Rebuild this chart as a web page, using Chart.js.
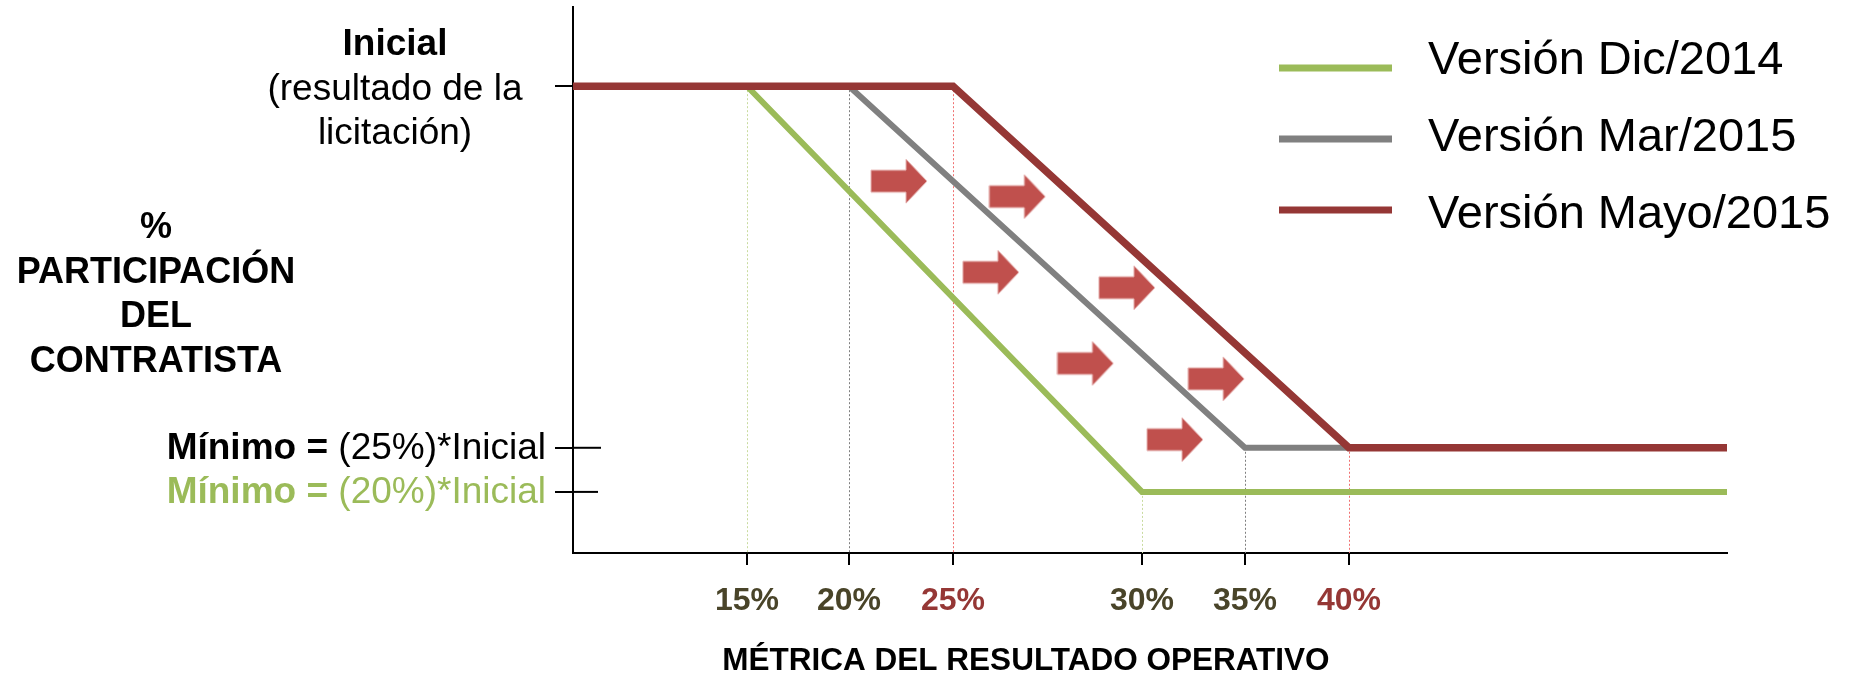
<!DOCTYPE html>
<html>
<head>
<meta charset="utf-8">
<script src="https://cdn.jsdelivr.net/npm/chart.js@4.4.1/dist/chart.umd.min.js"></script>
<style>
  html, body { margin: 0; padding: 0; background: #fff; }
  canvas { display: block; }
</style>
</head>
<body>
<canvas id="graphic" width="1851" height="674"></canvas>
<script>
// values
const seriesLabels = ['Versión Dic/2014', 'Versión Mar/2015', 'Versión Mayo/2015'];
const kneeStart = [15, 20, 25];   // metric where the share starts to drop
const kneeEnd = [30, 35, 40];     // metric where the minimum is reached
const minLevel = [20, 25, 25];    // minimum share (% of Inicial)
const initialLevel = 100;
const xMin = 0, xMax = 60;
const yMin = 0, yMax = 120;
const xTicks = [15, 20, 25, 30, 35, 40];
const xTickLabels = ['15%', '20%', '25%', '30%', '35%', '40%'];
const yTitleLines = ['%', 'PARTICIPACIÓN', 'DEL', 'CONTRATISTA'];
const xTitle = 'MÉTRICA DEL RESULTADO OPERATIVO';
// red arrows between the curves
const arrowX = [22.4, 26.7, 26.0, 29.6, 28.5, 33.6, 31.6];
const arrowY = [80.3, 77.1, 61.4, 58.2, 42.5, 39.3, 26.7];

// styles
const fam = "'Liberation Sans', Arial, sans-serif";
const lineColors = ['#9BBB59', '#808080', '#953735'];
const lineWidths = [6, 6, 7.5];
const dropColors = ['#C9DB9F', '#7F7F7F', '#F07070'];
const tickColors = ['#494429', '#494429', '#953735', '#494429', '#494429', '#953735'];

// the drawing is schematic: axis spacing is not linear
const axisWarp = {
  x: { values: [xMin, 15, 20, 25, 30, 35, 40, xMax], frac: [0, 0.1508, 0.2392, 0.3293, 0.4931, 0.5823, 0.6724, 1] },
  y: { values: [yMin, 20, 25, 100, yMax], frac: [0, 0.1119, 0.1927, 0.8550, 1] }
};

function lerpKnots(from, to, v) {
  let i = 1;
  while (i < from.length - 1 && v > from[i]) i++;
  return to[i - 1] + (v - from[i - 1]) / (from[i] - from[i - 1]) * (to[i] - to[i - 1]);
}

class PiecewiseScale extends Chart.LinearScale {
  getPixelForValue(value) {
    if (value === null || isNaN(value)) return NaN;
    const w = axisWarp[this.id];
    return this.getPixelForDecimal(lerpKnots(w.values, w.frac, value));
  }
  getValueForPixel(pixel) {
    const w = axisWarp[this.id];
    return lerpKnots(w.frac, w.values, this.getDecimalForPixel(pixel));
  }
}
PiecewiseScale.id = 'piecewise';
PiecewiseScale.defaults = Chart.LinearScale.defaults;
Chart.register(PiecewiseScale);

// arrow marker
const arrowImg = document.createElement('canvas');
arrowImg.width = 58;
arrowImg.height = 46;
const actx = arrowImg.getContext('2d');
actx.beginPath();
actx.moveTo(1, 12);
actx.lineTo(36, 12);
actx.lineTo(36, 1);
actx.lineTo(57, 23);
actx.lineTo(36, 45);
actx.lineTo(36, 34);
actx.lineTo(1, 34);
actx.closePath();
actx.fillStyle = '#C0504D';
actx.fill();
actx.strokeStyle = '#E6B2B1';
actx.lineWidth = 1;
actx.stroke();

const datasets = seriesLabels.map((label, i) => ({
  label,
  data: [
    { x: xMin, y: initialLevel },
    { x: kneeStart[i], y: initialLevel },
    { x: kneeEnd[i], y: minLevel[i] },
    { x: xMax, y: minLevel[i] }
  ],
  borderColor: lineColors[i],
  borderWidth: lineWidths[i],
  borderJoinStyle: 'miter',
  borderCapStyle: 'butt',
  pointRadius: 0,
  tension: 0,
  fill: false,
  order: 3 - i
}));
datasets.push({
  label: 'arrows',
  data: arrowX.map((x, i) => ({ x, y: arrowY[i] })),
  showLine: false,
  pointStyle: arrowImg,
  pointRadius: 20,
  order: 0
});

const yLevels = [...new Set([...minLevel, initialLevel])].sort((a, b) => a - b);

function text(ctx, s, x, y, size, bold, color, align) {
  ctx.font = (bold ? 'bold ' : '') + size + 'px ' + fam;
  ctx.fillStyle = color;
  ctx.textAlign = align || 'center';
  ctx.textBaseline = 'alphabetic';
  ctx.fillText(s, x, y);
  return ctx.measureText(s).width;
}

const annotations = {
  id: 'annotations',
  beforeDatasetsDraw(chart) {
    const { ctx, scales: { x, y } } = chart;
    ctx.save();
    // thin drop lines from the corners
    ctx.lineWidth = 1;
    ctx.setLineDash([2, 2]);
    seriesLabels.forEach((_, i) => {
      ctx.strokeStyle = dropColors[i];
      [[kneeStart[i], initialLevel], [kneeEnd[i], minLevel[i]]].forEach(([vx, vy]) => {
        const px = Math.round(x.getPixelForValue(vx)) + 0.5;
        ctx.beginPath();
        ctx.moveTo(px, y.getPixelForValue(vy));
        ctx.lineTo(px, y.bottom);
        ctx.stroke();
      });
    });
    ctx.setLineDash([]);
    // minimum markers cross the axis
    ctx.strokeStyle = '#000';
    ctx.lineWidth = 2;
    [[25, 28], [20, 25]].forEach(([lv, len]) => {
      const py = y.getPixelForValue(lv);
      ctx.beginPath();
      ctx.moveTo(x.left, py);
      ctx.lineTo(x.left + len, py);
      ctx.stroke();
    });
    ctx.restore();
  },
  afterDraw(chart) {
    const { ctx, scales: { y } } = chart;
    ctx.save();
    // Inicial label
    const yi = y.getPixelForValue(initialLevel);
    text(ctx, 'Inicial', 395, yi - 31, 37, true, '#000');
    text(ctx, '(resultado de la', 395, yi + 14, 37, false, '#000');
    text(ctx, 'licitación)', 395, yi + 58, 37, false, '#000');
    // minimum labels
    [[25, '#000', '(25%)*Inicial'], [20, '#9BBB59', '(20%)*Inicial']].forEach(([lv, col, rest]) => {
      const py = y.getPixelForValue(lv) + 11;
      const w = text(ctx, rest, 546, py, 37, false, col, 'right');
      text(ctx, 'Mínimo = ', 546 - w, py, 37, true, col, 'right');
    });
    // y title
    yTitleLines.forEach((s, i) => text(ctx, s, 156, 238 + i * 44.7, 36, true, '#000'));
    // x title
    text(ctx, xTitle, 1026, 670, 31.5, true, '#000');
    // legend
    seriesLabels.forEach((s, i) => {
      const ly = 68 + i * 71;
      ctx.strokeStyle = lineColors[i];
      ctx.lineWidth = 7;
      ctx.beginPath();
      ctx.moveTo(1279, ly);
      ctx.lineTo(1392, ly);
      ctx.stroke();
      text(ctx, s, 1428, 74 + i * 77, 47, false, '#000', 'left');
    });
    ctx.restore();
  }
};

const config = {
  type: 'line',
  data: { datasets },
  options: {
    responsive: false,
    animation: false,
    layout: { autoPadding: false, padding: { left: 573, right: 124, top: 7, bottom: 37.6 } },
    plugins: { legend: { display: false }, tooltip: { enabled: false } },
    scales: {
      x: {
        type: 'piecewise',
        min: xMin,
        max: xMax,
        afterBuildTicks: s => { s.ticks = xTicks.map(v => ({ value: v })); },
        ticks: {
          callback: (v, i) => xTickLabels[i],
          color: c => tickColors[c.index],
          font: { family: fam, size: 32, weight: 'bold' },
          padding: 16.5,
          maxRotation: 0,
          autoSkip: false
        },
        grid: { drawOnChartArea: false, tickLength: 12, color: '#000', lineWidth: 2 },
        border: { color: '#000', width: 2 }
      },
      y: {
        type: 'piecewise',
        min: yMin,
        max: yMax,
        afterBuildTicks: s => { s.ticks = yLevels.map(v => ({ value: v })); },
        ticks: { display: false },
        grid: { drawOnChartArea: false, tickLength: 18, color: '#000', lineWidth: 2 },
        border: { color: '#000', width: 2 },
        afterFit: s => { s.width = 0; }
      }
    }
  },
  plugins: [annotations]
};

const myGraphic = new Chart(document.getElementById('graphic'), config);
</script>
</body>
</html>
